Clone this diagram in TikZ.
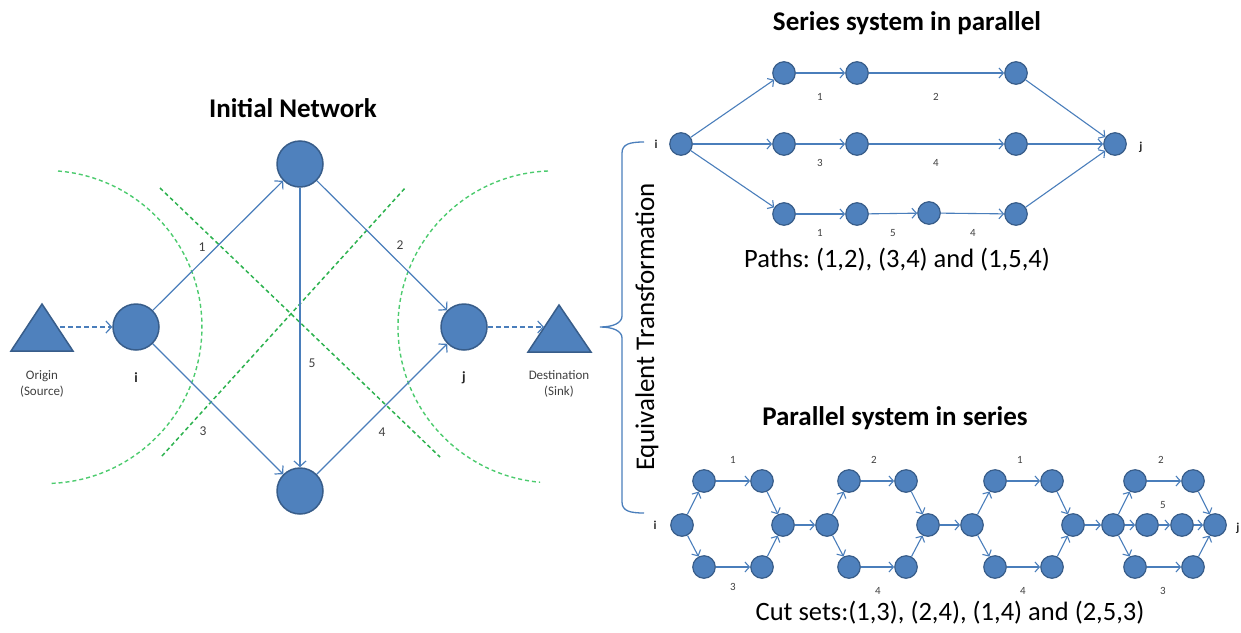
\documentclass[tikz,border=0pt]{standalone}
\usepackage{fontspec}
\setmainfont{Carlito}
\frenchspacing
\usetikzlibrary{arrows.meta,calc}
\definecolor{nodefill}{HTML}{4F81BD}
\definecolor{nodeline}{HTML}{385D8A}
\definecolor{edgecol}{HTML}{4A7EBB}
\definecolor{arcgreen}{HTML}{4CCB6E}
\definecolor{diaggreen}{HTML}{2DB24F}
\definecolor{labelgrey}{HTML}{404040}
\definecolor{ijgrey}{HTML}{262626}
\tikzset{
  bignode/.style={circle, fill=nodefill, draw=nodeline, line width=1.5pt, minimum size=46pt, inner sep=0pt},
  smallnode/.style={circle, fill=nodefill, draw=nodeline, line width=1.2pt, minimum size=22.5pt, inner sep=0pt},
  bigedge/.style={draw=edgecol, line width=1.2pt, -{Straight Barb[length=5.5pt,width=12pt,line width=1.2pt]}},
  smalledge/.style={draw=edgecol, line width=1.1pt, -{Straight Barb[length=4.5pt,width=10pt,line width=1.1pt]}},
  dashedge/.style={bigedge, dash pattern=on 5pt off 3pt},
  arcline/.style={draw=arcgreen, line width=1.4pt, dash pattern=on 4pt off 3pt},
  diagline/.style={draw=diaggreen, line width=1.5pt, dash pattern=on 4pt off 3pt},
  trishape/.style={fill=nodefill, draw=nodeline, line width=1.5pt, line join=miter},
  mytitle/.style={font=\fontsize{27}{30}\selectfont\bfseries, anchor=base},
  bigtxt/.style={font=\fontsize{26.5}{30}\selectfont, anchor=base},
  elabel/.style={font=\fontsize{13.5}{15.5}\selectfont, text=labelgrey, inner sep=0pt},
  slabel/.style={font=\fontsize{11}{13}\selectfont, text=labelgrey, inner sep=0pt},
  ijbig/.style={font=\fontsize{14}{16}\selectfont\bfseries, text=ijgrey, inner sep=0pt},
  ijsmall/.style={font=\fontsize{12}{14}\selectfont\bfseries, text=ijgrey, inner sep=0pt},
}
\begin{document}
\begin{tikzpicture}[x=1pt,y=-1pt]
\useasboundingbox (0,0) rectangle (1241,632);
% ---------------- Initial network ----------------
\node[mytitle] (tinit) at (293,117) {Initial Network};
% green cut lines
\draw[arcline] (58,171) arc[start angle=85.4, end angle=-88.3, radius=156.5pt];
\draw[arcline] (548,171) arc[start angle=92.2, end angle=264.9, radius=156pt];
\draw[diagline] (160,188) -- (440,457);
\draw[diagline] (162,456) -- (406,187);
% nodes
\node[bignode] (ni) at (136,327) {};
\node[bignode] (nt) at (300,164) {};
\node[bignode] (nb) at (300,491) {};
\node[bignode] (nj) at (464,327) {};
\draw[bigedge] (ni) -- (nt);
\draw[bigedge] (nt) -- (nj);
\draw[bigedge] (ni) -- (nb);
\draw[bigedge] (nb) -- (nj);
\draw[bigedge] (nt) -- (nb);
% triangles
\draw[trishape] (11,351) -- (42,304) -- (73,351) -- cycle;
\coordinate (origR) at (60,327);
\draw[trishape] (528,352) -- (559,305) -- (591,352) -- cycle;
\coordinate (destL) at (544,327);
\draw[dashedge] (origR) -- (ni);
\draw[dashedge] (nj) -- (destL);
% labels
\node[elabel, font=\fontsize{13}{15.5}\selectfont, align=center] (lorig) at (42,384) {Origin\\(Source)};
\node[elabel, font=\fontsize{13}{15.5}\selectfont, align=center] (ldest) at (559,384) {Destination\\(Sink)};
\node[ijbig] (li) at (136,378) {i};
\node[ijbig] (lj) at (464,378) {j};
\node[elabel] (e1) at (202,247) {1};
\node[elabel] (e2) at (400,245) {2};
\node[elabel] (e5) at (312,363) {5};
\node[elabel] (e3) at (203,431) {3};
\node[elabel] (e4) at (382,432) {4};
% ---------------- Brace ----------------
\draw[edgecol, line width=1.3pt] (644,142) .. controls (630,142) and (622,144) .. (622,153) -- (622,316) .. controls (622,323) and (613,327) .. (600,327) .. controls (613,327) and (622,331) .. (622,338) -- (622,502) .. controls (622,511) and (630,513) .. (644,513);
\node[font=\fontsize{27}{30}\selectfont, rotate=90] (eqt) at (647,327) {Equivalent Transformation};
% ---------------- Series system in parallel ----------------
\node[mytitle] (tser) at (907,30) {Series system in parallel};
\node[smallnode] (si) at (681,144) {};
\node[smallnode] (a1) at (784,73) {};
\node[smallnode] (a2) at (857,73) {};
\node[smallnode] (a3) at (1016,73) {};
\node[smallnode] (b1) at (784,144) {};
\node[smallnode] (b2) at (857,144) {};
\node[smallnode] (b3) at (1016,144) {};
\node[smallnode] (c1) at (784,214) {};
\node[smallnode] (c2) at (857,214) {};
\node[smallnode] (c3) at (929,213) {};
\node[smallnode] (c4) at (1016,214) {};
\node[smallnode] (sj) at (1115,144) {};
\draw[smalledge] (si) -- (a1);
\draw[smalledge] (si) -- (b1);
\draw[smalledge] (si) -- (c1);
\draw[smalledge] (a1) -- (a2);
\draw[smalledge] (a2) -- (a3);
\draw[smalledge] (a3) -- (sj);
\draw[smalledge] (b1) -- (b2);
\draw[smalledge] (b2) -- (b3);
\draw[smalledge] (b3) -- (sj);
\draw[smalledge] (c1) -- (c2);
\draw[smalledge] (c2) -- (c3);
\draw[smalledge] (c3) -- (c4);
\draw[smalledge] (c4) -- (sj);
\node[ijsmall] (lsi) at (656,144) {i};
\node[ijsmall] (lsj) at (1141,147) {j};
\node[slabel] (s1) at (820,97) {1};
\node[slabel] (s2) at (936,97) {2};
\node[slabel] (s3) at (820,163) {3};
\node[slabel] (s4) at (936,163) {4};
\node[slabel] (s5) at (820,233) {1};
\node[slabel] (s6) at (893,233) {5};
\node[slabel] (s7) at (973,233) {4};
\node[bigtxt] (paths) at (897,267) {Paths: (1,2), (3,4) and (1,5,4)};
% ---------------- Parallel system in series ----------------
\node[mytitle] (tpar) at (895,425) {Parallel system in series};
% hex 1
\node[smallnode] (h1l) at (682,525) {};
\node[smallnode] (h1tl) at (704,481) {};
\node[smallnode] (h1tr) at (762,481) {};
\node[smallnode] (h1r) at (783,525) {};
\node[smallnode] (h1bl) at (704,567) {};
\node[smallnode] (h1br) at (762,567) {};
% hex 2
\node[smallnode] (h2l) at (827,525) {};
\node[smallnode] (h2tl) at (849,481) {};
\node[smallnode] (h2tr) at (906,481) {};
\node[smallnode] (h2r) at (928,525) {};
\node[smallnode] (h2bl) at (849,567) {};
\node[smallnode] (h2br) at (906,567) {};
% hex 3
\node[smallnode] (h3l) at (972,525) {};
\node[smallnode] (h3tl) at (995,481) {};
\node[smallnode] (h3tr) at (1052,481) {};
\node[smallnode] (h3r) at (1073,525) {};
\node[smallnode] (h3bl) at (995,567) {};
\node[smallnode] (h3br) at (1052,567) {};
% hex 4
\node[smallnode] (h4l) at (1113,525) {};
\node[smallnode] (h4tl) at (1135,481) {};
\node[smallnode] (h4tr) at (1193,481) {};
\node[smallnode] (h4r) at (1215,525) {};
\node[smallnode] (h4bl) at (1135,567) {};
\node[smallnode] (h4br) at (1193,567) {};
\node[smallnode] (h4m1) at (1147,525) {};
\node[smallnode] (h4m2) at (1182,525) {};
\foreach \h in {h1,h2,h3,h4}{
  \draw[smalledge] (\h l) -- (\h tl);
  \draw[smalledge] (\h tl) -- (\h tr);
  \draw[smalledge] (\h tr) -- (\h r);
  \draw[smalledge] (\h l) -- (\h bl);
  \draw[smalledge] (\h bl) -- (\h br);
  \draw[smalledge] (\h br) -- (\h r);
}
\draw[smalledge] (h4l) -- (h4m1);
\draw[smalledge] (h4m1) -- (h4m2);
\draw[smalledge] (h4m2) -- (h4r);
\draw[smalledge] (h1r) -- (h2l);
\draw[smalledge] (h2r) -- (h3l);
\draw[smalledge] (h3r) -- (h4l);
\node[ijsmall] (lpi) at (655,525) {i};
\node[ijsmall] (lpj) at (1238,528) {j};
\node[slabel] (p1) at (733,460) {1};
\node[slabel] (p2) at (733,587) {3};
\node[slabel] (p3) at (874,460) {2};
\node[slabel] (p4) at (878,591) {4};
\node[slabel] (p5) at (1020,460) {1};
\node[slabel] (p6) at (1023,591) {4};
\node[slabel] (p7) at (1161,460) {2};
\node[slabel] (p8) at (1163,505) {5};
\node[slabel] (p9) at (1163,591) {3};
\node[bigtxt] (cuts) at (950,620) {Cut sets:(1,3), (2,4), (1,4) and (2,5,3)};
\end{tikzpicture}
\end{document}
